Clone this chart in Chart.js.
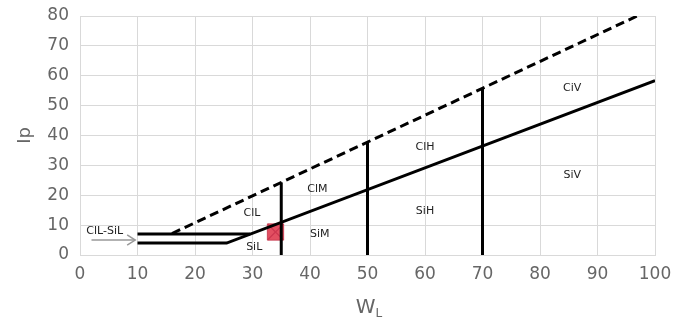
<!DOCTYPE html>
<html>
<head>
<meta charset="utf-8">
<script src="https://cdn.jsdelivr.net/npm/chart.js@4"></script>
<style>
  html, body { margin: 0; padding: 0; background: #fff; }
  #wrap { width: 675px; height: 320px; }
</style>
</head>
<body>
<div id="wrap"><canvas id="plasticidad"></canvas></div>
<script>
// lines of the plasticity chart (W_L, Ip)
var lineaA = [{x: 10, y: 4}, {x: 25.5, y: 4}, {x: 100, y: 58.4}];
var lineaCL = [{x: 10, y: 7}, {x: 29.6, y: 7}];
var lineaU = [{x: 16, y: 7.2}, {x: 96.9, y: 80}];
var vert35 = [{x: 35, y: 0}, {x: 35, y: 24.3}];
var vert50 = [{x: 50, y: 0}, {x: 50, y: 37.8}];
var vert70 = [{x: 70, y: 0}, {x: 70, y: 55.8}];
var muestra = [{x: 34, y: 7.7}];
var flecha = [{x: 2, y: 5}, {x: 9.6, y: 5}];
var flechaPunta = [{x: 8.2, y: 6.7}, {x: 9.6, y: 5}, {x: 8.2, y: 3.3}];

var zonas = ['ClL', 'SiL', 'ClM', 'SiM', 'ClH', 'SiH', 'CiV', 'SiV', 'ClL-SiL'];
var zonasX = [29.9, 30.3, 41.3, 41.7, 60, 60, 85.6, 85.6, 4.3];
var zonasY = [14, 2.7, 22, 7, 36, 14.7, 56, 26.7, 7.9];

var xTicks = [0, 10, 20, 30, 40, 50, 60, 70, 80, 90, 100];
var yTicks = [0, 10, 20, 30, 40, 50, 60, 70, 80];

function linea(data, extra) {
    var d = {
        data: data,
        showLine: true,
        borderColor: '#000',
        borderWidth: 3,
        pointRadius: 0,
        fill: false,
        tension: 0
    };
    for (var k in extra) d[k] = extra[k];
    return d;
}

var textos = {
    id: 'textos',
    afterDatasetsDraw: function (chart) {
        var ctx = chart.ctx;
        var sx = chart.scales.x, sy = chart.scales.y;
        ctx.save();
        ctx.fillStyle = '#222';
        ctx.font = '11px "DejaVu Sans"';
        ctx.textAlign = 'center';
        ctx.textBaseline = 'middle';
        for (var i = 0; i < zonas.length; i++) {
            ctx.fillText(zonas[i], sx.getPixelForValue(zonasX[i]), sy.getPixelForValue(zonasY[i]));
        }
        // x axis title W_L
        var cx = (chart.chartArea.left + chart.chartArea.right) / 2;
        ctx.fillStyle = '#666';
        ctx.font = '20px "DejaVu Sans"';
        ctx.textAlign = 'right';
        ctx.textBaseline = 'alphabetic';
        ctx.fillText('W', cx + 8, 313);
        ctx.font = '12px "DejaVu Sans"';
        ctx.textAlign = 'left';
        ctx.fillText('L', cx + 8, 317);
        ctx.restore();
    }
};

var ctx = document.getElementById('plasticidad').getContext('2d');
var grafico = new Chart(ctx, {
    type: 'scatter',
    data: {
        datasets: [
            linea(lineaA),
            linea(lineaCL),
            linea(lineaU, {borderDash: [9, 5]}),
            linea(vert35),
            linea(vert50),
            linea(vert70),
            linea(flecha, {borderColor: '#999', borderWidth: 1.5}),
            linea(flechaPunta, {borderColor: '#999', borderWidth: 1.5}),
            {
                data: muestra,
                pointStyle: 'rect',
                pointRadius: 11.5,
                backgroundColor: 'rgba(222, 55, 75, 0.88)',
                borderColor: 'rgba(200, 60, 80, 0.9)',
                borderWidth: 1
            },
            {
                data: muestra,
                pointStyle: 'crossRot',
                pointRadius: 11,
                borderColor: '#5b3f70',
                borderWidth: 1.3
            }
        ]
    },
    options: {
        responsive: true,
        maintainAspectRatio: false,
        animation: false,
        layout: {padding: {left: 0, right: 20, top: 16, bottom: 0}},
        plugins: {
            legend: {display: false},
            tooltip: {enabled: false}
        },
        scales: {
            x: {
                type: 'linear',
                min: 0,
                max: 100,
                afterBuildTicks: function (s) { s.ticks = xTicks.map(function (v) { return {value: v}; }); },
                afterFit: function (s) { s.height = 65; s.paddingLeft = 0; s.paddingRight = 0; },
                grid: {color: '#d9d9d9', drawTicks: false},
                border: {color: '#d9d9d9'},
                ticks: {color: '#666', font: {family: 'DejaVu Sans', size: 17}, padding: 9, maxRotation: 0}
            },
            y: {
                type: 'linear',
                min: 0,
                max: 80,
                afterBuildTicks: function (s) { s.ticks = yTicks.map(function (v) { return {value: v}; }); },
                afterFit: function (s) { s.width = 80; s.paddingTop = 0; s.paddingBottom = 0; },
                grid: {color: '#d9d9d9', drawTicks: false},
                border: {color: '#d9d9d9'},
                title: {display: true, text: 'Ip', color: '#666', font: {family: 'DejaVu Sans', size: 18}, padding: {top: 15, bottom: 0}},
                ticks: {color: '#666', font: {family: 'DejaVu Sans', size: 17}, padding: 11}
            }
        }
    },
    plugins: [textos]
});
</script>
</body>
</html>
